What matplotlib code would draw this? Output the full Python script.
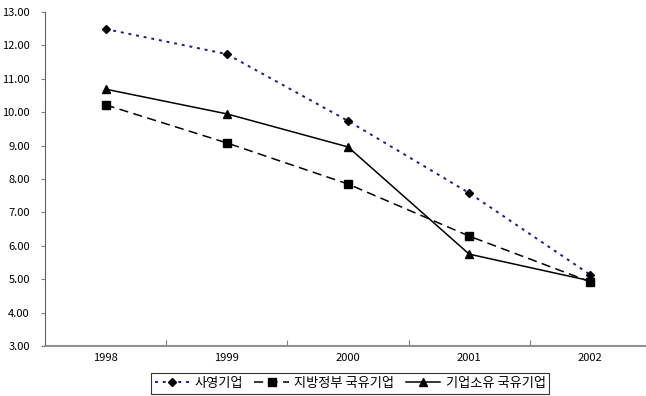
import matplotlib.pyplot as plt
import numpy as np

plt.rcParams['font.family'] = ['Noto Sans CJK KR', 'DejaVu Sans']

years = ['1998', '1999', '2000', '2001', '2002']
private = [12.49, 11.74, 9.74, 7.58, 5.13]
local_soe = [10.22, 9.08, 7.85, 6.29, 4.92]
corp_soe = [10.69, 9.95, 8.96, 5.75, 4.95]

fig = plt.figure(figsize=(6.46, 3.96), dpi=100)
# axes runs a little past the right edge of the canvas
ax = fig.add_axes([45 / 646, 50 / 396, 606 / 646, 334 / 396])

x = np.arange(len(years))
ax.plot(x, private, color='#1a1a8c', linestyle=(0, (1.5, 2.5)), linewidth=1.4,
        marker='D', markersize=4.5, markerfacecolor='black', markeredgecolor='black',
        label='사영기업')
ax.plot(x, local_soe, color='black', linestyle=(0, (6, 3.5)), linewidth=1.1,
        marker='s', markersize=5.5, label='지방정부 국유기업')
ax.plot(x, corp_soe, color='black', linestyle='-', linewidth=1.1,
        marker='^', markersize=6, label='기업소유 국유기업')

ax.set_xlim(-0.5, 4.5)
ax.set_ylim(3, 13)
ax.set_yticks(np.arange(3, 14, 1))
ax.set_yticklabels([f'{v:.2f}' for v in np.arange(3, 14, 1)], fontsize=8)

# category labels centred, tick marks on the boundaries
ax.set_xticks(np.arange(0.5, 4.5, 1))
ax.set_xticklabels([])
ax.set_xticks(x, minor=True)
ax.set_xticklabels(years, minor=True, fontsize=8)
ax.tick_params(axis='x', which='major', direction='in', length=4, color='#808080')
ax.tick_params(axis='x', which='minor', length=0, pad=5)
ax.tick_params(axis='y', direction='out', length=3, color='#808080', pad=8)

for side in ['top', 'right']:
    ax.spines[side].set_visible(False)
ax.spines['left'].set_color('#606060')
ax.spines['bottom'].set_color('#909090')
ax.spines['bottom'].set_linewidth(1.5)

leg = fig.legend(loc='upper center', bbox_to_anchor=(350 / 646, 1 - 373 / 396),
                 ncol=3, fontsize=9.5, frameon=True, fancybox=False,
                 edgecolor='black', handlelength=2.6, handletextpad=0.4,
                 columnspacing=0.9, borderpad=0.3, borderaxespad=0)
leg.get_frame().set_linewidth(0.8)

fig.savefig('out.png', dpi=100)
